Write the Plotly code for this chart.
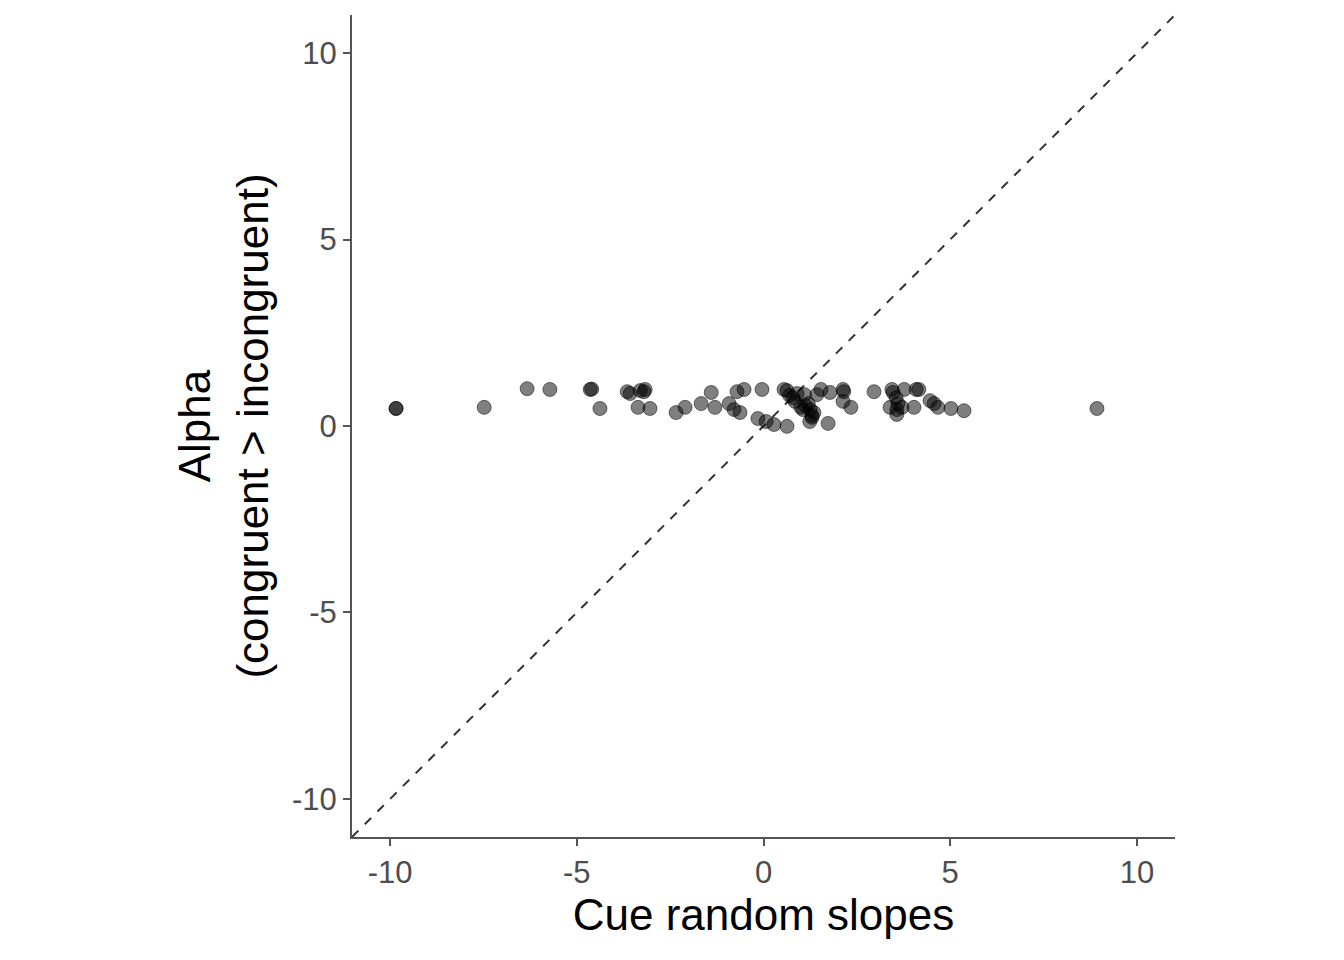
import plotly.graph_objects as go

x_vals = [-9.84, -9.84, -7.48, -6.33, -5.72, -4.64, -4.60, -4.38, -3.65, -3.57, -3.30, -3.17, -3.20,
          -3.36, -3.04, -2.34, -2.10, -1.67, -1.40, -1.30, -0.92, -0.79, -0.71, -0.52, -0.63,
          -0.04, -0.15, 0.07, 0.28, 0.63, 0.55, 0.63, 0.70, 0.84, 0.79,
          1.00, 1.06, 1.12, 1.20, 1.25, 1.30, 1.35, 0.90, 1.10, 1.43, 1.54, 1.78,
          1.24, 1.30, 1.73, 2.13, 2.15, 2.13, 2.34, 2.96, 3.44, 3.47, 3.55, 3.60,
          3.39, 3.57, 3.57, 3.71, 3.77, 4.03, 4.09, 4.16, 4.46, 4.57, 4.67, 5.02, 5.37, 8.93]
y_vals = [0.47, 0.47, 0.50, 1.00, 0.98, 0.98, 0.99, 0.47, 0.92, 0.87, 0.95, 0.98, 0.92,
          0.50, 0.47, 0.36, 0.50, 0.60, 0.90, 0.50, 0.60, 0.44, 0.92, 0.98, 0.36,
          0.98, 0.20, 0.12, 0.04, -0.01, 0.98, 0.95, 0.82, 0.66, 0.76,
          0.50, 0.44, 0.55, 0.60, 0.44, 0.28, 0.36, 0.87, 0.84, 0.84, 0.98, 0.90,
          0.12, 0.23, 0.07, 0.98, 0.92, 0.66, 0.50, 0.92, 0.98, 0.90, 0.76, 0.60,
          0.50, 0.44, 0.31, 0.50, 0.98, 0.50, 0.98, 0.98, 0.68, 0.60, 0.50, 0.47, 0.41, 0.47]

tick_vals = [-10, -5, 0, 5, 10]
tick_text = ["-10", "-5", "0", "5", "10"]
diag = [-11.02, 11.02]

fig = go.Figure()
fig.add_trace(go.Scatter(x=diag, y=diag, mode="lines",
                         line=dict(color="#333333", width=2, dash="dash"), hoverinfo="skip"))
fig.add_trace(go.Scatter(x=x_vals, y=y_vals, mode="markers",
                         marker=dict(color="rgba(0,0,0,0.5)", size=14,
                                     line=dict(width=1, color="rgba(0,0,0,0.5)"))))

axis_common = dict(range=[-11.02, 11.02], tickvals=tick_vals, ticktext=tick_text,
                   showgrid=False, zeroline=False, showline=True, linecolor="#555555", linewidth=2,
                   ticks="outside", ticklen=7, tickcolor="#555555", tickwidth=2,
                   tickfont=dict(family="Liberation Sans, Arial", size=31, color="#4d4d4d"))
fig.update_xaxes(**axis_common, title=dict(text="Cue random slopes",
                 font=dict(family="Liberation Sans, Arial", size=44, color="black"), standoff=4))
fig.update_yaxes(**axis_common, title=dict(text="Alpha<br>(congruent > incongruent)",
                 font=dict(family="Liberation Sans, Arial", size=44, color="black"), standoff=10))
fig.update_layout(width=1344, height=960, plot_bgcolor="white", paper_bgcolor="white",
                  showlegend=False, margin=dict(l=344, r=177, t=7, b=131))
fig.write_html("out.html")
